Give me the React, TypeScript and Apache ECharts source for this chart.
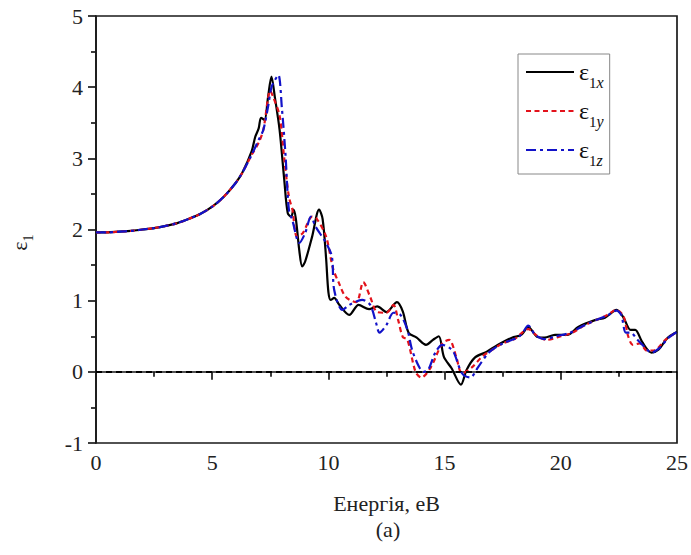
import React, { useEffect, useRef } from "react";
import * as echarts from "echarts";

// Real part of the dielectric function, ε1(E), for three polarisations.
const eps1x: [number, number][] = [
  [0, 1.96], [0.5, 1.96], [1, 1.97], [1.5, 1.98], [2, 2.0], [2.5, 2.02], [3, 2.05],
  [3.5, 2.09], [4, 2.15], [4.5, 2.22], [5, 2.32], [5.5, 2.46], [6, 2.65],
  [6.3, 2.8], [6.7, 3.1], [6.85, 3.3], [7.0, 3.42], [7.1, 3.57],
  [7.25, 3.54], [7.4, 3.85], [7.55, 4.15], [7.7, 3.85], [7.9, 3.4], [8.1, 2.7],
  [8.25, 2.23], [8.4, 2.18], [8.5, 2.28], [8.6, 2.15], [8.75, 1.7], [8.87, 1.48],
  [9.0, 1.55], [9.3, 1.9], [9.6, 2.28], [9.75, 2.15], [9.9, 1.6], [10.0, 1.12],
  [10.1, 1.01], [10.25, 1.04], [10.45, 0.95], [10.9, 0.8], [11.3, 0.94],
  [11.75, 0.88], [12.1, 0.92], [12.5, 0.84], [12.95, 0.98], [13.2, 0.85],
  [13.45, 0.55], [13.8, 0.48], [14.2, 0.38], [14.5, 0.45], [14.75, 0.5],
  [14.97, 0.21], [15.3, 0.05], [15.7, -0.18], [15.95, 0.03], [16.3, 0.2],
  [16.8, 0.28], [17.3, 0.38], [17.9, 0.48], [18.3, 0.52], [18.6, 0.63],
  [19.0, 0.49], [19.3, 0.48], [19.75, 0.52], [20.3, 0.52], [20.75, 0.63],
  [21.5, 0.73], [21.9, 0.76], [22.4, 0.87], [22.7, 0.76], [23.0, 0.59],
  [23.2, 0.59], [23.5, 0.42], [23.9, 0.27], [24.2, 0.31], [24.6, 0.48], [25, 0.56],
];

const eps1y: [number, number][] = [
  [0, 1.96], [0.5, 1.96], [1, 1.97], [1.5, 1.98], [2, 2.0], [2.5, 2.02], [3, 2.05],
  [3.5, 2.09], [4, 2.15], [4.5, 2.22], [5, 2.32], [5.5, 2.46], [6, 2.65],
  [6.3, 2.8], [6.7, 3.05], [7.0, 3.22], [7.2, 3.4], [7.5, 3.95],
  [7.6, 3.88], [7.9, 3.6], [8.1, 3.0], [8.3, 2.46], [8.45, 2.28], [8.65, 1.9],
  [8.9, 1.95], [9.3, 2.18], [9.5, 2.15], [9.9, 1.9], [10.2, 1.45], [10.45, 1.25],
  [10.75, 1.05], [11.2, 0.98], [11.5, 1.26], [11.8, 1.05], [12.1, 0.84],
  [12.5, 0.83], [12.8, 0.94], [13.0, 0.73], [13.2, 0.49], [13.4, 0.45],
  [13.75, 0.0], [14.0, -0.08], [14.4, 0.06], [14.9, 0.4], [15.2, 0.45],
  [15.5, 0.21], [15.75, -0.02], [16.2, 0.07], [16.6, 0.21], [17.0, 0.3],
  [17.5, 0.4], [18.0, 0.46], [18.6, 0.6], [19.0, 0.5], [19.4, 0.45], [20.0, 0.5],
  [20.5, 0.55], [21.0, 0.65], [21.6, 0.74], [22.0, 0.8], [22.4, 0.87],
  [22.7, 0.78], [22.9, 0.5], [23.1, 0.38], [23.4, 0.4], [23.7, 0.3], [24.0, 0.3],
  [24.5, 0.45], [25, 0.56],
];

const eps1z: [number, number][] = [
  [0, 1.96], [0.5, 1.96], [1, 1.97], [1.5, 1.98], [2, 2.0], [2.5, 2.02], [3, 2.05],
  [3.5, 2.09], [4, 2.15], [4.5, 2.22], [5, 2.32], [5.5, 2.46], [6, 2.65],
  [6.3, 2.8], [6.7, 3.05], [7.0, 3.26], [7.2, 3.4], [7.4, 3.72],
  [7.55, 4.0], [7.7, 4.1], [7.85, 4.17], [8.0, 3.7], [8.15, 3.07], [8.3, 2.28],
  [8.45, 2.13], [8.75, 1.81], [9.0, 1.95], [9.25, 2.18], [9.45, 2.04],
  [9.9, 1.81], [10.15, 1.62], [10.25, 1.15], [10.6, 0.87], [10.9, 0.94],
  [11.45, 1.01], [11.8, 0.94], [12.05, 0.69], [12.2, 0.55], [12.5, 0.66],
  [12.8, 0.83], [13.1, 0.8], [13.4, 0.59], [13.6, 0.31], [13.9, 0.07],
  [14.1, 0.0], [14.3, 0.03], [14.6, 0.27], [14.9, 0.38], [15.2, 0.34],
  [15.4, 0.27], [15.75, -0.02], [16.1, -0.08], [16.45, 0.07], [16.9, 0.27],
  [17.5, 0.4], [18.0, 0.46], [18.3, 0.52], [18.6, 0.65], [18.9, 0.52],
  [19.3, 0.46], [19.8, 0.5], [20.4, 0.55], [21.0, 0.65], [21.6, 0.74],
  [22.0, 0.79], [22.4, 0.86], [22.6, 0.8], [22.8, 0.55], [23.0, 0.55],
  [23.3, 0.45], [23.6, 0.35], [23.9, 0.27], [24.3, 0.35], [24.6, 0.47], [25, 0.56],
];

const seriesNames = ["1x", "1y", "1z"];
const xTicks = { min: 0, max: 25, interval: 5 };
const yTicks = { min: -1, max: 5, interval: 1 };

const FONT = "Times New Roman, Liberation Serif, serif";

export default function App() {
  const ref = useRef<HTMLDivElement>(null);

  useEffect(() => {
    if (!ref.current) return;
    const chart = echarts.init(ref.current, undefined, { renderer: "svg" });

    const axisLine = { show: true, lineStyle: { color: "#1a1a1a", width: 1.7 } };
    const tickStyle = { color: "#1a1a1a", width: 1.7 };

    const legendRich = {
      e: { fontFamily: FONT, fontSize: 24, color: "#111", lineHeight: 24, verticalAlign: "bottom" as const },
      n: { fontFamily: FONT, fontSize: 15, color: "#111", lineHeight: 24, verticalAlign: "bottom" as const, padding: [0, 0, -6, 0] },
      i: { fontFamily: FONT, fontSize: 16, fontStyle: "italic" as const, color: "#111", lineHeight: 24, verticalAlign: "bottom" as const, padding: [0, 0, -6, 0] },
    };

    chart.setOption({
      animation: false,
      backgroundColor: "#ffffff",
      textStyle: { fontFamily: FONT },
      grid: {
        left: 96,
        right: 12,
        top: 16,
        bottom: 112,
        show: true,
        borderColor: "#1a1a1a",
        borderWidth: 1.7,
        backgroundColor: "transparent",
      },
      legend: {
        orient: "vertical",
        left: 518,
        top: 54,
        padding: [6, 6, 6, 7],
        itemWidth: 48,
        itemHeight: 20,
        itemGap: 9,
        borderColor: "#888",
        borderWidth: 1,
        backgroundColor: "#fff",
        itemStyle: { opacity: 0 },
        data: seriesNames,
        formatter: (name: string) => `{e|ε}{n|${name[0]}}{i|${name.slice(1)}}`,
        textStyle: { fontFamily: FONT, rich: legendRich },
      },
      xAxis: {
        type: "value",
        min: xTicks.min,
        max: xTicks.max,
        interval: xTicks.interval,
        name: "Енергія, еВ",
        nameLocation: "middle",
        nameGap: 49,
        nameTextStyle: { fontFamily: FONT, fontSize: 22, color: "#222" },
        axisLine,
        axisTick: { show: true, inside: false, length: 8, lineStyle: tickStyle },
        minorTick: { show: true, splitNumber: 2, length: 5, lineStyle: tickStyle },
        splitLine: { show: false },
        axisLabel: { fontFamily: FONT, fontSize: 22, color: "#222", margin: 8 },
      },
      yAxis: {
        type: "value",
        min: yTicks.min,
        max: yTicks.max,
        interval: yTicks.interval,
        name: "{e|ε}{n|1}",
        nameLocation: "middle",
        nameRotate: 90,
        nameGap: 66,
        nameTextStyle: {
          fontFamily: FONT,
          padding: [0, 26, 0, 0],
          rich: {
            e: { fontFamily: FONT, fontSize: 22, color: "#222", verticalAlign: "bottom" as const, lineHeight: 22 },
            n: { fontFamily: FONT, fontSize: 14, color: "#222", verticalAlign: "bottom" as const, lineHeight: 22, padding: [0, 0, -5, 0] },
          },
        },
        axisLine,
        axisTick: { show: true, inside: false, length: 8, lineStyle: tickStyle },
        minorTick: { show: true, splitNumber: 2, length: 5, lineStyle: tickStyle },
        splitLine: { show: false },
        axisLabel: { fontFamily: FONT, fontSize: 22, color: "#222", margin: 13 },
      },
      series: [
        {
          name: seriesNames[0],
          type: "line",
          data: eps1x,
          symbol: "none",
          smooth: 0.3,
          lineStyle: { color: "#000000", width: 2.2, type: "solid" },
          itemStyle: { color: "#000000" },
          z: 3,
          markLine: {
            silent: true,
            symbol: "none",
            label: { show: false },
            lineStyle: { color: "#000", width: 1.8, type: [6, 4] },
            data: [{ yAxis: 0 }],
          },
        },
        {
          name: seriesNames[1],
          type: "line",
          data: eps1y,
          symbol: "none",
          smooth: 0.3,
          lineStyle: { color: "#e3121b", width: 2.2, type: [5, 3.5] },
          itemStyle: { color: "#e3121b" },
          z: 4,
        },
        {
          name: seriesNames[2],
          type: "line",
          data: eps1z,
          symbol: "none",
          smooth: 0.3,
          lineStyle: { color: "#1212c8", width: 2.2, type: [10, 4, 3, 4] },
          itemStyle: { color: "#1212c8" },
          z: 5,
        },
      ],
      graphic: [
        {
          type: "text",
          x: 388,
          y: 529,
          style: {
            text: "(a)",
            fontFamily: FONT,
            fontSize: 22,
            fill: "#222",
            align: "center",
            verticalAlign: "middle",
          },
        },
      ],
    });

    return () => chart.dispose();
  }, []);

  return (
    <div
      ref={ref}
      style={{ position: "absolute", left: 0, top: 0, width: 691, height: 555 }}
    />
  );
}
